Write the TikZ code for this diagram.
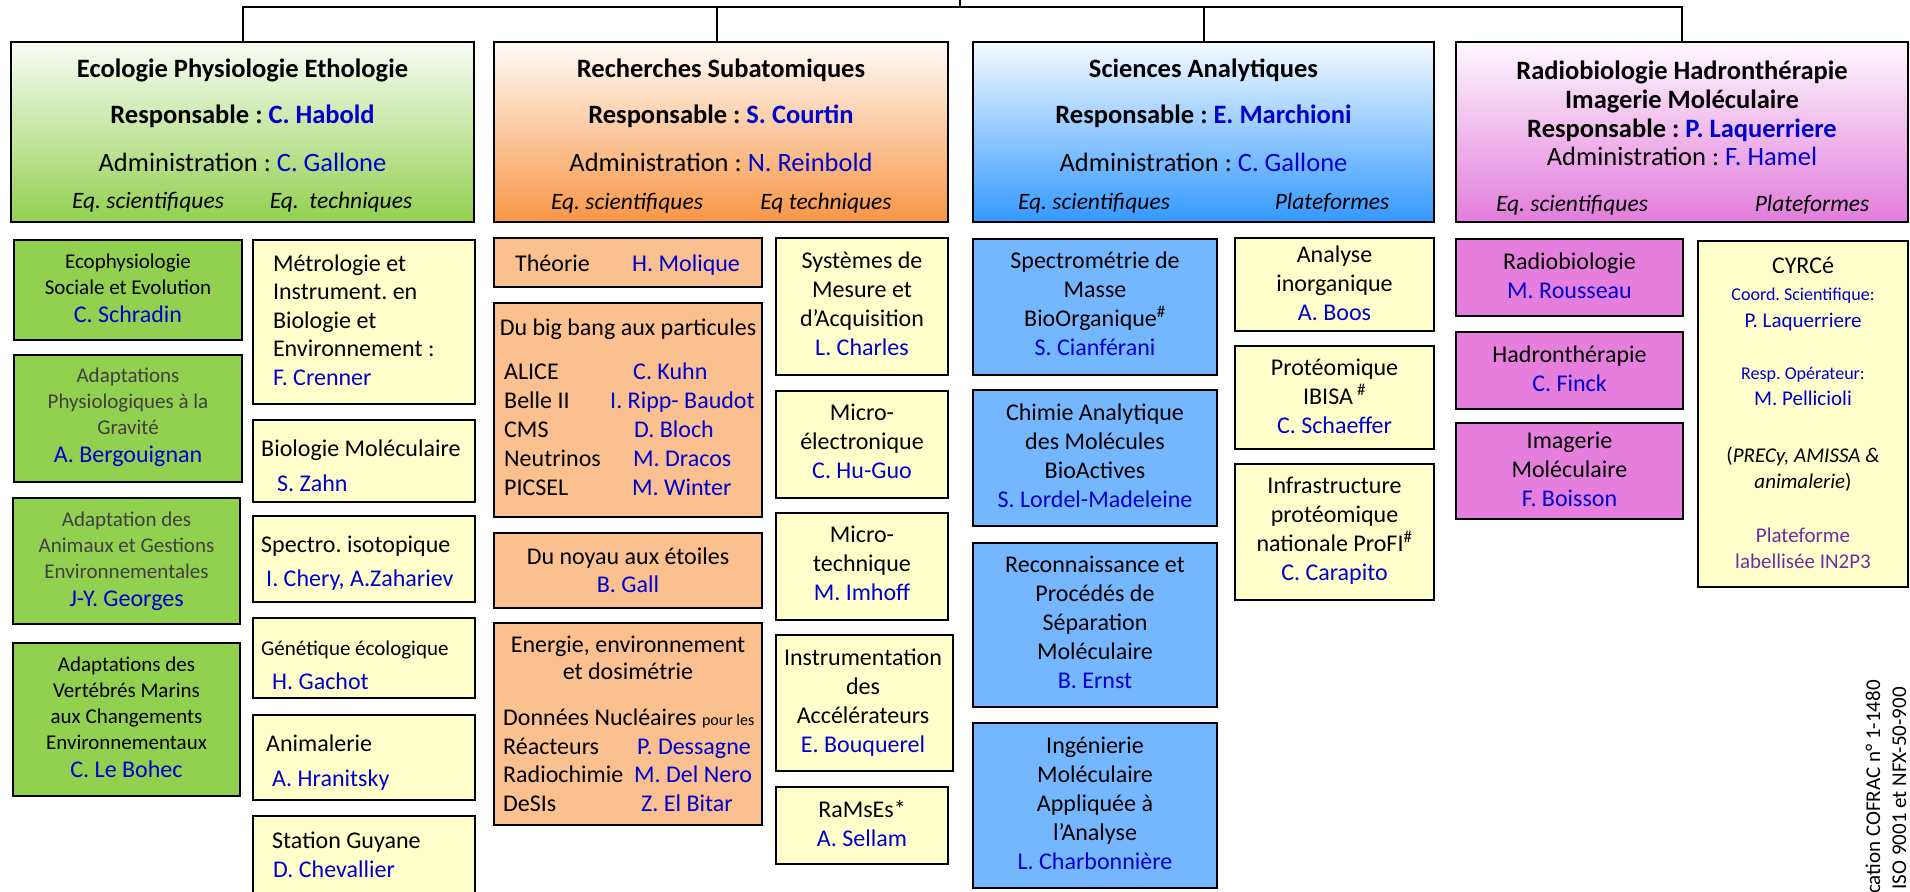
\documentclass[tikz,border=0pt]{standalone}
\usepackage{fontspec}
\setmainfont{Carlito}
\frenchspacing
\definecolor{cGreen}{HTML}{92D050}
\definecolor{cOrL}{HTML}{FAC090}
\definecolor{cYel}{HTML}{FFFFCC}
\definecolor{cBlue}{HTML}{75B7FF}
\definecolor{cMag}{HTML}{E67EDD}
\definecolor{cOrB}{HTML}{F79646}
\definecolor{cBlB}{HTML}{3399FF}
\definecolor{cMgB}{HTML}{E27CDB}
\definecolor{nmc}{HTML}{0000CC}
\definecolor{cGray}{HTML}{404040}
\definecolor{cPur}{HTML}{7030A0}
\newcommand\nm[1]{\textcolor{nmc}{#1}}
\newcommand\nmB[1]{{\fontsize{24}{29}\selectfont\color{nmc}#1}}
\newcommand\fB{\fontsize{24}{29}\selectfont\frenchspacing}
\newcommand\fS{\fontsize{21}{26}\selectfont\frenchspacing}
\newcommand\fH{\fontsize{26.5}{32}\selectfont\frenchspacing}
\newcommand\fQ{\fontsize{23.5}{28}\selectfont\itshape\frenchspacing}
\newcommand\fT{\fontsize{18}{22}\selectfont\frenchspacing}
\tikzset{
  bx/.style={draw=black, line width=1.8pt, inner sep=0pt, outer sep=0pt},
  tx/.style={inner sep=0pt, outer sep=0pt, align=center, execute at begin node=\strut, execute at end node=\strut},
  tl/.style={inner sep=0pt, anchor=base west},
  tc/.style={inner sep=0pt, anchor=base},
  conn/.style={line width=2pt, draw=black},
}
\newcommand\mkbox[6]{\node[bx,#6,minimum width={(#4)-(#2)},minimum height={(#5)-(#3)}] (#1) at ({((#2)+(#4))/2},{((#3)+(#5))/2}) {};}
\begin{document}
\begin{tikzpicture}[x=1pt,y=-1pt]
\useasboundingbox (0,0) rectangle (1910,891);
\clip (0,0) rectangle (1910,891);
\fill[white] (0,0) rectangle (1910,891);

% headers
\mkbox{h1}{11}{42}{474}{222}{top color=cGreen!6!white, bottom color=cGreen}
\mkbox{h2}{494}{42}{948}{222}{top color=cOrB!4!white, bottom color=cOrB}
\mkbox{h3}{973}{42}{1434}{222}{top color=cBlB!5!white, bottom color=cBlB}
\mkbox{h4}{1456}{42}{1908}{222}{top color=cMgB!5!white, bottom color=cMgB}

% connectors
\coordinate (top) at (960,0);
\coordinate (bus) at (960,7.5);
\draw[conn] (h1.north) |- (bus) -| (h4.north);
\draw[conn] (top) -- (bus);
\draw[conn] ([xshift=-4pt]h2.north) -- ([xshift=-4pt]h2.north |- bus);
\draw[conn] (h3.north) -- (h3.north |- bus);

% header texts
\node[tc,font=\fH\bfseries] (h1a) at (242.5,77.5) {Ecologie Physiologie Ethologie};
\node[tc,font=\fH\bfseries] (h1b) at (242.5,123) {Responsable : \nm{C. Habold}};
\node[tc,font=\fH] (h1c) at (242.5,171) {Administration : \nm{C. Gallone}};
\node[tc,font=\fQ] (h1d) at (148,208) {Eq. scientifiques};
\node[tc,font=\fQ] (h1e) at (341,208) {Eq.\ \ techniques};

\node[tc,font=\fH\bfseries] (h2a) at (721,77.5) {Recherches Subatomiques};
\node[tc,font=\fH\bfseries] (h2b) at (721,123.5) {Responsable : \nm{S. Courtin}};
\node[tc,font=\fH] (h2c) at (721,171) {Administration : \nm{N. Reinbold}};
\node[tc,font=\fQ] (h2d) at (627,209) {Eq. scientifiques};
\node[tc,font=\fQ] (h2e) at (826,209) {Eq techniques};

\node[tc,font=\fH\bfseries] (h3a) at (1203.5,77.5) {Sciences Analytiques};
\node[tc,font=\fH\bfseries] (h3b) at (1203.5,123.5) {Responsable : \nm{E. Marchioni}};
\node[tc,font=\fH] (h3c) at (1203.5,171) {Administration : \nm{C. Gallone}};
\node[tc,font=\fQ] (h3d) at (1094,209) {Eq. scientifiques};
\node[tc,font=\fQ] (h3e) at (1332,209) {Plateformes};

\node[tc,font=\fH\bfseries] (h4a) at (1682,79) {Radiobiologie Hadronthérapie};
\node[tc,font=\fH\bfseries] (h4b) at (1682,108) {Imagerie Moléculaire};
\node[tc,font=\fH\bfseries] (h4c) at (1682,137) {Responsable : \nm{P. Laquerriere}};
\node[tc,font=\fH] (h4d) at (1682,165) {Administration : \nm{F. Hamel}};
\node[tc,font=\fQ] (h4e) at (1572,211) {Eq. scientifiques};
\node[tc,font=\fQ] (h4f) at (1812,211) {Plateformes};

% Ecologie column 1 (green)
\mkbox{g1}{14}{240}{242}{340}{fill=cGreen}
\mkbox{g2}{14}{355}{242}{482}{fill=cGreen}
\mkbox{g3}{13}{498}{240}{624}{fill=cGreen}
\mkbox{g4}{13}{643}{240}{796}{fill=cGreen}
\node[tx,font=\fS] (g1t) at (128,292) {Ecophysiologie\\Sociale et Evolution\\[2pt]\nmB{C. Schradin}};
\node[tx,font=\fS,text=cGray] (g2t) at (128,419.5) {Adaptations\\Physiologiques à la\\Gravité\\[2pt]\nmB{A. Bergouignan}};
\node[tx,font=\fS,text=cGray] (g3t) at (126.5,563) {Adaptation des\\Animaux et Gestions\\Environnementales\\[2pt]\nmB{J-Y. Georges}};
\node[tx,font=\fS] (g4t) at (126.5,721) {Adaptations des\\Vertébrés Marins\\aux Changements\\Environnementaux\\[2pt]\nmB{C. Le Bohec}};

% Ecologie column 2 (yellow)
\mkbox{y1}{253}{240}{475}{404}{fill=cYel}
\mkbox{y2}{253}{420}{475}{502}{fill=cYel}
\mkbox{y3}{253}{516}{475}{602}{fill=cYel}
\mkbox{y4}{253}{618}{475}{698}{fill=cYel}
\mkbox{y5}{253}{715}{475}{800}{fill=cYel}
\mkbox{y6}{253}{816}{475}{905}{fill=cYel}
\node[tx,align=left,anchor=west,font=\fontsize{24}{28.5}\selectfont\frenchspacing] (y1t) at (273,324) {Métrologie et\\Instrument. en\\Biologie et\\Environnement :\\\nm{F. Crenner}};
\node[tl,font=\fB] (y2a) at (261,456) {Biologie Moléculaire};
\node[tl,font=\fB] (y2b) at (277,491.5) {\nm{S. Zahn}};
\node[tl,font=\fB] (y3a) at (261,552.5) {Spectro. isotopique};
\node[tl,font=\fB] (y3b) at (266,586) {\nm{I. Chery, A.Zahariev}};
\node[tl,font=\fS] (y4a) at (261,655) {Génétique écologique};
\node[tl,font=\fB] (y4b) at (272,689.5) {\nm{H. Gachot}};
\node[tl,font=\fB] (y5a) at (266,751.5) {Animalerie};
\node[tl,font=\fB] (y5b) at (272,786) {\nm{A. Hranitsky}};
\node[tl,font=\fB] (y6a) at (272,848.5) {Station Guyane};
\node[tl,font=\fB] (y6b) at (273,877.5) {\nm{D. Chevallier}};

% Subatomiques column 1 (orange)
\mkbox{o1}{494}{238}{762}{287}{fill=cOrL}
\mkbox{o2}{494}{303}{762}{517}{fill=cOrL}
\mkbox{o3}{494}{533}{762}{608}{fill=cOrL}
\mkbox{o4}{494}{623}{762}{825}{fill=cOrL}
\node[tl,font=\fB] (o1a) at (515,271.5) {Théorie};
\node[tl,font=\fB] (o1b) at (632,271.5) {\nm{H. Molique}};
\node[tc,font=\fB] (o2t) at (628,335) {Du big bang aux particules};
\node[tl,font=\fB] (o2a) at (504,379.3) {ALICE};
\node[tl,font=\fB] (o2b) at (504,408.3) {Belle II};
\node[tl,font=\fB] (o2c) at (504,437.3) {CMS};
\node[tl,font=\fB] (o2d) at (504,466.2) {Neutrinos};
\node[tl,font=\fB] (o2e) at (504,495) {PICSEL};
\node[tl,font=\fB] (o2A) at (633,379.3) {\nm{C. Kuhn}};
\node[tl,font=\fB] (o2B) at (610,408.3) {\nm{I. Ripp- Baudot}};
\node[tl,font=\fB] (o2C) at (634,437.3) {\nm{D. Bloch}};
\node[tl,font=\fB] (o2D) at (633,466.2) {\nm{M. Dracos}};
\node[tl,font=\fB] (o2E) at (632,495) {\nm{M. Winter}};
\node[tc,font=\fB] (o3a) at (628,564) {Du noyau aux étoiles};
\node[tc,font=\fB] (o3b) at (628,592.7) {\nm{B. Gall}};
\node[tc,font=\fB] (o4a) at (628,652.3) {Energie, environnement};
\node[tc,font=\fB] (o4b) at (628,679.3) {et dosimétrie};
\node[tl,font=\fB] (o4c) at (503,725) {Données Nucléaires {\fontsize{16}{19}\selectfont pour les}};
\node[tl,font=\fB] (o4d) at (503,754) {Réacteurs};
\node[tl,font=\fB] (o4e) at (503,782.7) {Radiochimie};
\node[tl,font=\fB] (o4f) at (503,811.7) {DeSIs};
\node[tl,font=\fB] (o4D) at (637,754) {\nm{P. Dessagne}};
\node[tl,font=\fB] (o4E) at (634,782.7) {\nm{M. Del Nero}};
\node[tl,font=\fB] (o4F) at (641,811.7) {\nm{Z. El Bitar}};

% Subatomiques column 2 (yellow)
\mkbox{s1}{776}{238}{948}{375}{fill=cYel}
\mkbox{s2}{776}{391}{948}{498}{fill=cYel}
\mkbox{s3}{776}{513}{948}{620}{fill=cYel}
\mkbox{s4}{776}{635}{953}{771}{fill=cYel}
\mkbox{s5}{776}{787}{948}{864}{fill=cYel}
\node[tx,font=\fB] (s1t) at (862,308.5) {Systèmes de\\Mesure et\\d’Acquisition\\\nm{L. Charles}};
\node[tx,font=\fB] (s2t) at (862,446) {Micro-\\électronique\\\nm{C. Hu-Guo}};
\node[tx,font=\fB] (s3t) at (862,568) {Micro-\\technique\\\nm{M. Imhoff}};
\node[tx,font=\fB] (s4t) at (863,705) {Instrumentation\\des\\Accélérateurs\\\nm{E. Bouquerel}};
\node[tx,font=\fB] (s5t) at (862,828) {RaMsEs*\\\nm{A. Sellam}};

% Analytiques column 1 (blue)
\mkbox{b1}{973}{239}{1217}{375}{fill=cBlue}
\mkbox{b2}{973}{390}{1217}{526}{fill=cBlue}
\mkbox{b3}{973}{543}{1217}{707}{fill=cBlue}
\mkbox{b4}{973}{723}{1217}{888}{fill=cBlue}
\node[tx,font=\fB] (b1t) at (1095,308) {Spectrométrie de\\Masse\\BioOrganique\textsuperscript{\#}\\\nm{S. Cianférani}};
\node[tx,font=\fB] (b2t) at (1095,460.5) {Chimie Analytique\\des Molécules\\BioActives\\\nm{S. Lordel-Madeleine}};
\node[tx,font=\fB] (b3t) at (1095,627) {Reconnaissance et\\Procédés de\\Séparation\\Moléculaire\\\nm{B. Ernst}};
\node[tx,font=\fB] (b4t) at (1095,808) {Ingénierie\\Moléculaire\\Appliquée à\\l’Analyse\\\nm{L. Charbonnière}};

% Analytiques column 2 (yellow)
\mkbox{a1}{1235}{238}{1434}{331}{fill=cYel}
\mkbox{a2}{1235}{346}{1434}{449}{fill=cYel}
\mkbox{a3}{1235}{464}{1434}{600}{fill=cYel}
\node[tx,font=\fB] (a1t) at (1334.5,287.5) {Analyse\\inorganique\\\nm{A. Boos}};
\node[tx,font=\fB] (a2t) at (1334.5,400.5) {Protéomique\\IBISA\,\textsuperscript{\#}\\\nm{C. Schaeffer}};
\node[tx,font=\fB] (a3t) at (1334.5,533.5) {Infrastructure\\protéomique\\nationale ProFI\textsuperscript{\#}\\\nm{C. Carapito}};

% Radiobiologie column 1 (magenta)
\mkbox{m1}{1456}{239}{1683}{316}{fill=cMag}
\mkbox{m2}{1456}{332}{1683}{409}{fill=cMag}
\mkbox{m3}{1456}{423}{1683}{519}{fill=cMag}
\node[tx,font=\fB] (m1t) at (1569.5,280.5) {Radiobiologie\\\nm{M. Rousseau}};
\node[tx,font=\fB] (m2t) at (1569.5,373.5) {Hadronthérapie\\\nm{C. Finck}};
\node[tx,font=\fB] (m3t) at (1569.5,474) {Imagerie\\Moléculaire\\\nm{F. Boisson}};

% CYRCe
\mkbox{cy}{1698}{241}{1908}{587}{fill=cYel}
\node[tc,font=\fB] (cya) at (1803,273.3) {CYRCé};
\node[tc,font=\fT] (cyb) at (1803,300) {\nm{Coord. Scientifique:}};
\node[tc,font=\fS] (cyc) at (1803,327.7) {\nm{P. Laquerriere}};
\node[tc,font=\fT] (cyd) at (1803,379) {\nm{Resp. Opérateur:}};
\node[tc,font=\fS] (cye) at (1803,405.7) {\nm{M. Pellicioli}};
\node[tc,font=\fS] (cyf) at (1803,462.7) {(\textit{PRECy, AMISSA \&}};
\node[tc,font=\fS] (cyg) at (1803,488.3) {\textit{animalerie})};
\node[tc,font=\fS,text=cPur] (cyh) at (1803,542.7) {Plateforme};
\node[tc,font=\fS,text=cPur] (cyi) at (1803,568.3) {labellisée IN2P3};

% rotated accreditation text
\node[rotate=90,anchor=base east,inner sep=0pt,font=\fS] (acc1) at (1880,680) {cation COFRAC n° 1-1480};
\node[rotate=90,anchor=base east,inner sep=0pt,font=\fS] (acc2) at (1906,687) {ISO 9001 et NFX-50-900};
\end{tikzpicture}
\end{document}
